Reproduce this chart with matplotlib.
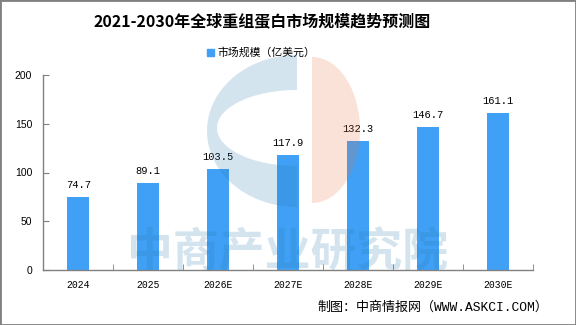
import numpy as np
import matplotlib
matplotlib.use("Agg")
import matplotlib.pyplot as plt
from matplotlib.path import Path
from matplotlib.patches import PathPatch, Rectangle

plt.rcParams['font.family'] = ['Noto Sans CJK SC', 'DejaVu Sans']

years = ['2024', '2025', '2026E', '2027E', '2028E', '2029E', '2030E']
market = [74.7, 89.1, 103.5, 117.9, 132.3, 146.7, 161.1]
yticks = [0, 50, 100, 150, 200]

W, H = 576, 325
fig = plt.figure(figsize=(W / 100, H / 100), dpi=100)
ax = fig.add_axes([43.3 / W, 1 - 270 / H, 490 / W, 195 / H])

x = np.arange(len(years))
bar_color = '#3FA0F5'
ax.bar(x, market, width=0.31, color=bar_color, zorder=2, label='市场规模（亿美元）')
for xi, v in zip(x, market):
    ax.text(xi, v + 7, f'{v:.1f}', ha='center', va='bottom', fontsize=7.5,
            family=['Liberation Mono', 'DejaVu Sans Mono'])

ax.set_xlim(-0.5, len(years) - 0.5)
ax.set_ylim(0, 200)
ax.set_yticks(yticks)
ax.set_yticklabels([str(t) for t in yticks], fontsize=7.5, family=['Liberation Sans'])
ax.set_xticks(x)
ax.set_xticklabels(years, fontsize=7, family=['Liberation Mono'])
ax.set_xticks(np.arange(-0.5, len(years)), minor=True)
ax.tick_params(axis='x', which='major', length=0, pad=7)
ax.tick_params(axis='x', which='minor', direction='in', length=4, color='#808080')
ax.tick_params(axis='y', direction='in', length=4, color='#808080', pad=8)
for s in ['top', 'right']:
    ax.spines[s].set_visible(False)
for s in ['left', 'bottom']:
    ax.spines[s].set_color('#808080')
    ax.spines[s].set_linewidth(1)

# title, legend, source
fig.text(262 / W, 1 - 21 / H, '2021-2030年全球重组蛋白市场规模趋势预测图',
         ha='center', va='center', fontsize=11.5, fontweight='bold')
fig.patches.append(Rectangle((207 / W, 1 - 55.5 / H), 7 / W, 7 / H,
                             transform=fig.transFigure, color=bar_color))
fig.text(217 / W, 1 - 52 / H, '市场规模（亿美元）', ha='left', va='center', fontsize=7.8)
fig.text(317 / W, 1 - 307.5 / H, '制图：中商情报网（WWW.ASKCI.COM）',
         ha='left', va='center', fontsize=9.4,
         family=['Liberation Mono', 'Noto Sans CJK SC'])

# watermark logo
def ell(cx, cy, rx, ry, t0, t1, n=80):
    t = np.linspace(t0, t1, n)
    px = cx + rx * np.cos(t)
    py = cy + ry * np.sin(t)
    return np.column_stack([px / W, 1 - py / H])

outer = ell(297, 131, 90, 76, -np.pi / 2, -3 * np.pi / 2)
inner = ell(297, 128, 80, 38, -3 * np.pi / 2, -np.pi / 2)
verts = np.vstack([outer, outer[:1], inner, inner[:1]])
codes = ([Path.MOVETO] + [Path.LINETO] * (len(outer) - 1) + [Path.CLOSEPOLY]
         + [Path.MOVETO] + [Path.LINETO] * (len(inner) - 1) + [Path.CLOSEPOLY])
fig.patches.append(PathPatch(Path(verts, codes), transform=fig.transFigure,
                             facecolor='#2A7AB0', alpha=0.2, lw=0, zorder=5))
half = ell(312, 130, 48, 73, -np.pi / 2, np.pi / 2)
fig.patches.append(PathPatch(Path(np.vstack([half, half[:1]]), closed=True),
                             transform=fig.transFigure, facecolor='#EB6E3C',
                             alpha=0.2, lw=0, zorder=5))
fig.text(288 / W, 1 - 253 / H, '中商产业研究院', ha='center', va='center',
         fontsize=33, fontweight='bold', color='#2A7AB0', alpha=0.2, zorder=5)

fig.patches.append(Rectangle((0, 0), 1, 1, transform=fig.transFigure,
                             fill=False, edgecolor='#808080', lw=2))

fig.savefig('out.png', dpi=100)
